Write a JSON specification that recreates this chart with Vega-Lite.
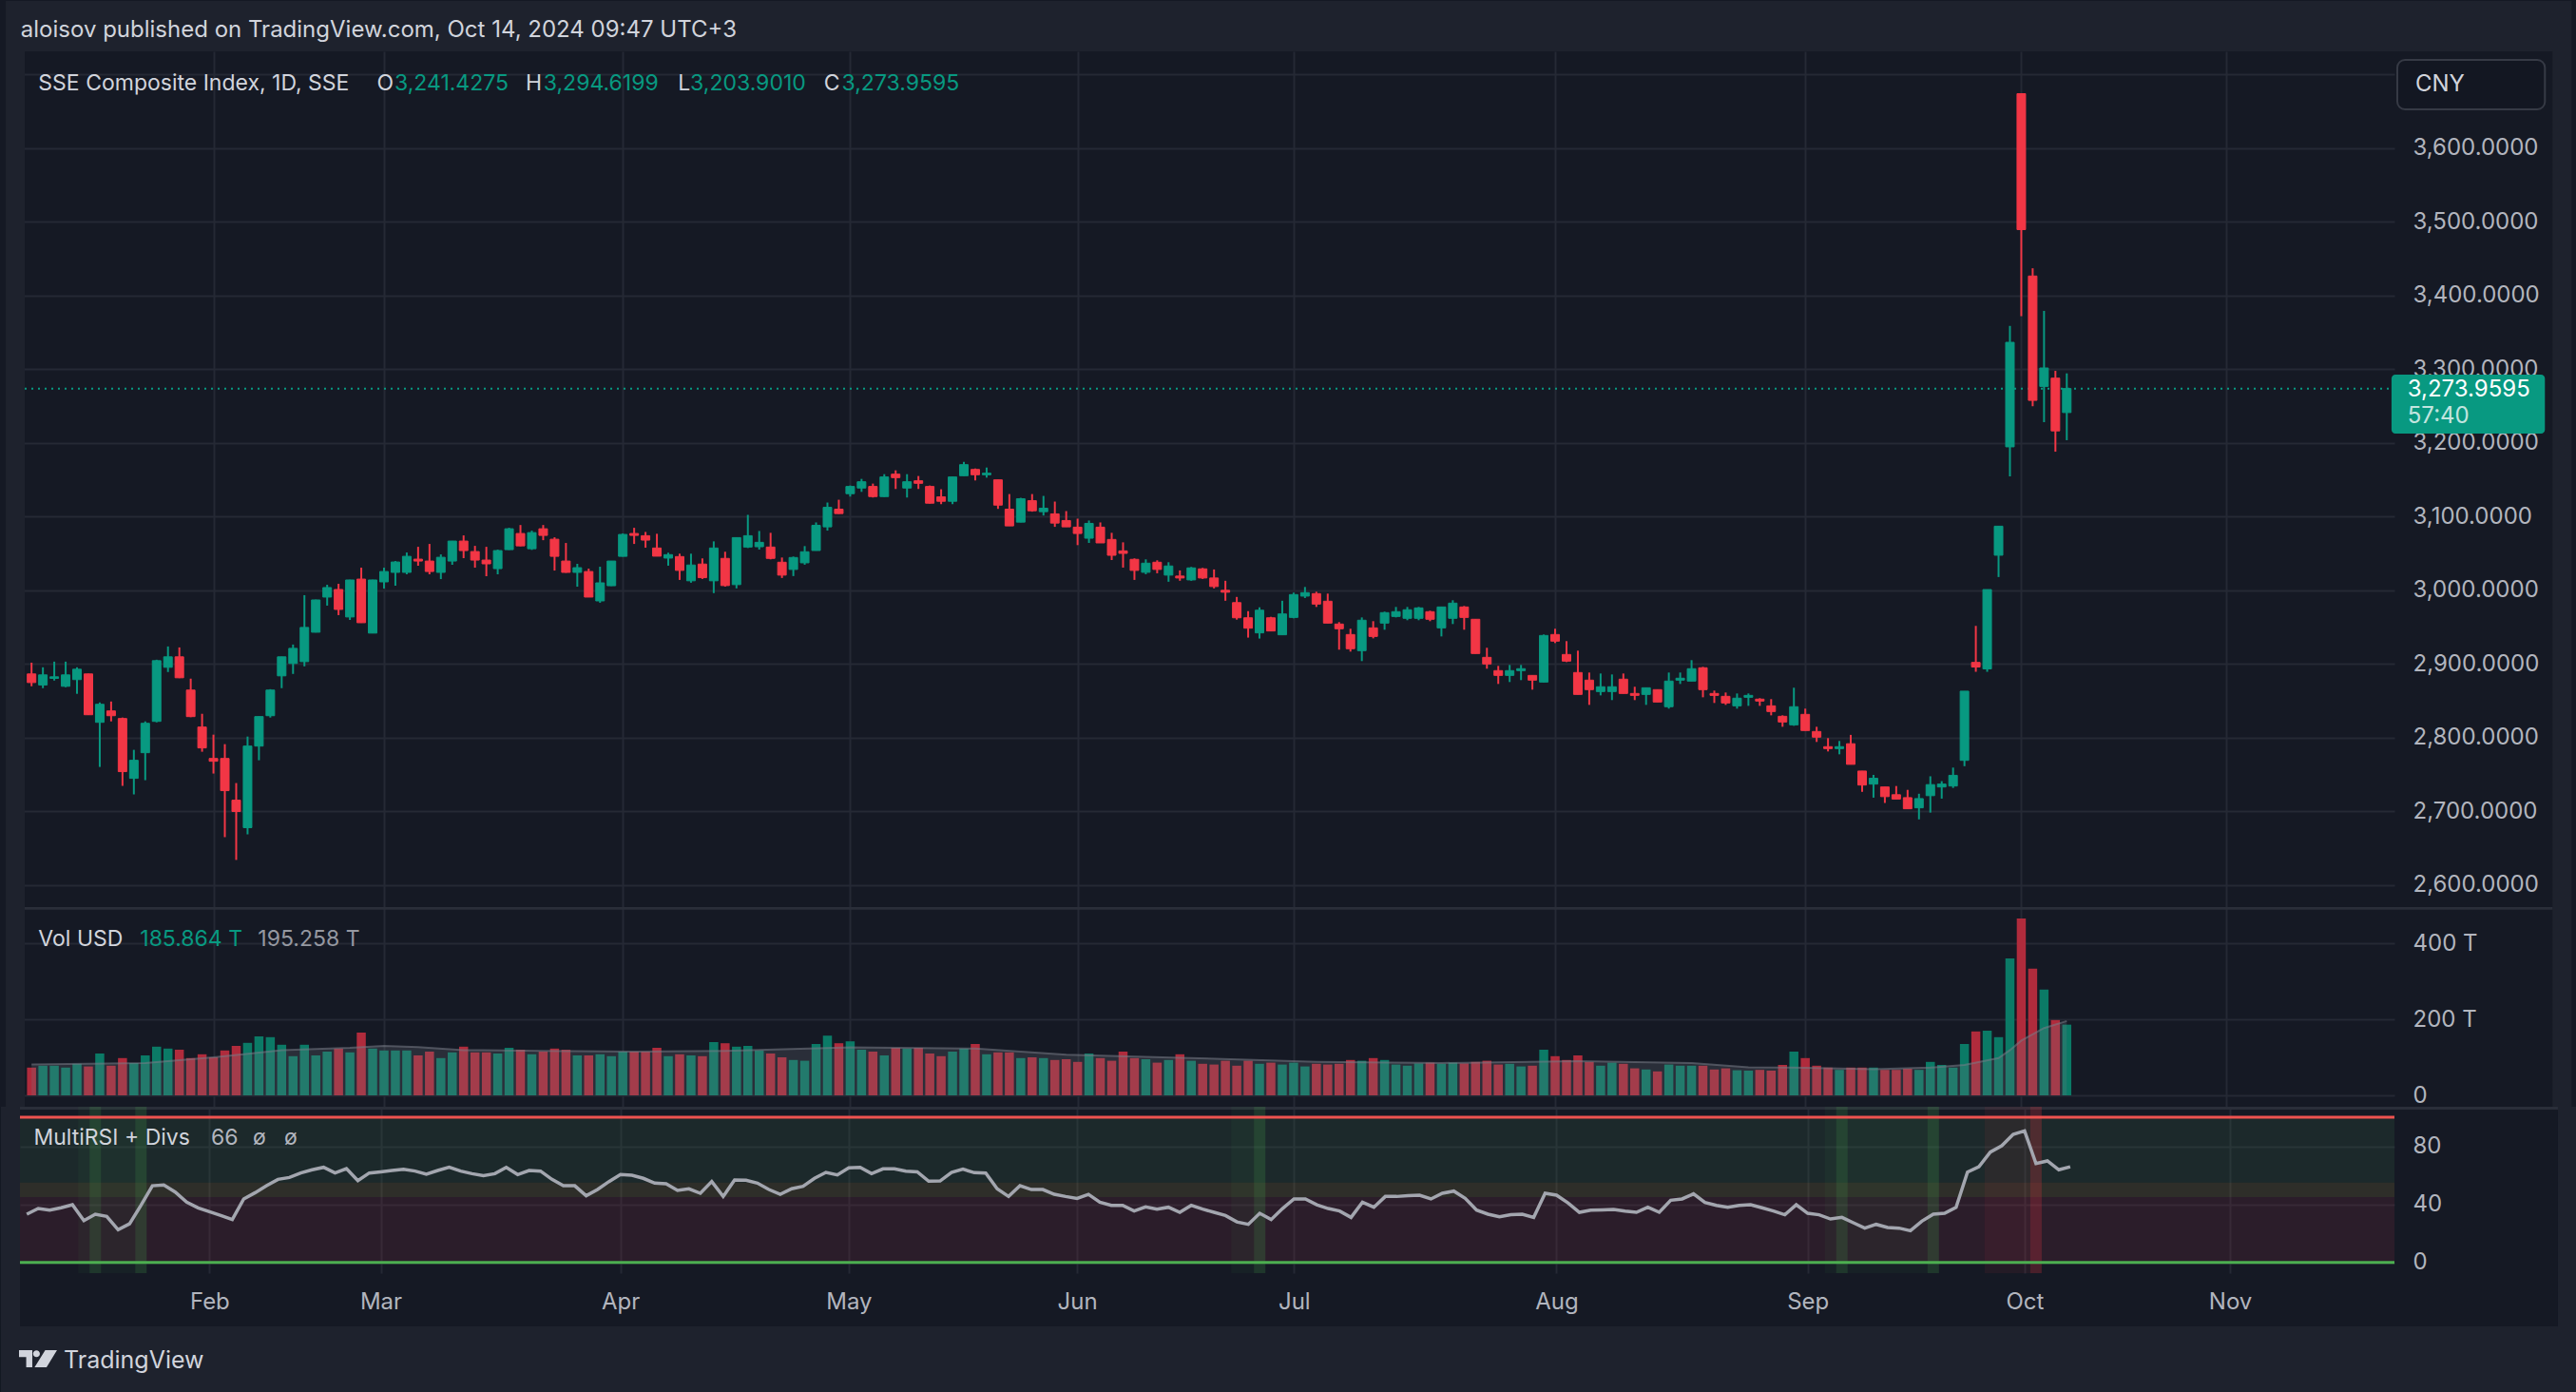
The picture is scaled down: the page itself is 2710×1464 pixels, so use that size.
{
  "$schema": "https://vega.github.io/schema/vega-lite/v6.json",
  "background": "#151924",
  "padding": 0,
  "spacing": 0,
  "config": {
    "view": {"stroke": null},
    "font": "Inter",
    "axis": {
      "gridColor": "#252934",
      "gridWidth": 2,
      "labelColor": "#b2b5be",
      "labelFont": "Inter",
      "labelFontSize": 24,
      "tickSize": 0,
      "labelFlush": false,
      "labelOverlap": false
    }
  },
  "datasets": {
    "bars": [
      {"i":0,"o":2886.7,"h":2902,"l":2870,"c":2875,"v":73,"r":33.2},
      {"i":1,"o":2871.7,"h":2895.7,"l":2867.4,"c":2885.4,"v":78,"r":37.1},
      {"i":2,"o":2880.7,"h":2903.4,"l":2877.7,"c":2882.8,"v":78,"r":36},
      {"i":3,"o":2869.9,"h":2903.4,"l":2868.7,"c":2885.4,"v":73,"r":37.6},
      {"i":4,"o":2879,"h":2895.7,"l":2859.7,"c":2893.1,"v":83,"r":39.7},
      {"i":5,"o":2886.7,"h":2887,"l":2831,"c":2831.3,"v":76,"r":28.8},
      {"i":6,"o":2821,"h":2848,"l":2760.5,"c":2845.5,"v":110,"r":33.2},
      {"i":7,"o":2836.5,"h":2849.3,"l":2822.3,"c":2830,"v":78,"r":31.7},
      {"i":8,"o":2826.2,"h":2827.5,"l":2734.8,"c":2754.1,"v":98,"r":22.5},
      {"i":9,"o":2745,"h":2783.7,"l":2723.2,"c":2769.5,"v":85,"r":26.6},
      {"i":10,"o":2779.8,"h":2822.3,"l":2742.5,"c":2819.7,"v":105,"r":39.3},
      {"i":11,"o":2822.3,"h":2906,"l":2821,"c":2904.7,"v":128,"r":52.8},
      {"i":12,"o":2895.7,"h":2924,"l":2889.3,"c":2909.9,"v":123,"r":53.3},
      {"i":13,"o":2909.9,"h":2922.7,"l":2881,"c":2881.5,"v":120,"r":48.5},
      {"i":14,"o":2864.8,"h":2880.3,"l":2828,"c":2828.8,"v":98,"r":41.5},
      {"i":15,"o":2814.6,"h":2832.6,"l":2781.1,"c":2786.3,"v":108,"r":37.6},
      {"i":16,"o":2772,"h":2804.3,"l":2751.5,"c":2768.2,"v":100,"r":34.9},
      {"i":17,"o":2772,"h":2791.4,"l":2665.2,"c":2728.3,"v":118,"r":32.3},
      {"i":18,"o":2715.4,"h":2738.6,"l":2634.3,"c":2700,"v":130,"r":29.5},
      {"i":19,"o":2678.1,"h":2801.7,"l":2669,"c":2788.8,"v":138,"r":43.7},
      {"i":20,"o":2788.8,"h":2829,"l":2769.5,"c":2828.8,"v":155,"r":48},
      {"i":21,"o":2830,"h":2866,"l":2827.5,"c":2864.8,"v":153,"r":52.8},
      {"i":22,"o":2884.1,"h":2910,"l":2867.4,"c":2909.9,"v":133,"r":57.2},
      {"i":23,"o":2900.9,"h":2926.6,"l":2886.7,"c":2921.4,"v":103,"r":58.5},
      {"i":24,"o":2903.4,"h":2993.6,"l":2897,"c":2949.8,"v":133,"r":61.6},
      {"i":25,"o":2943.3,"h":2987.5,"l":2943,"c":2987.1,"v":105,"r":63.8},
      {"i":26,"o":2991,"h":3007.7,"l":2979.4,"c":3003.9,"v":115,"r":65.5},
      {"i":27,"o":3001.3,"h":3009,"l":2966.5,"c":2974.2,"v":123,"r":61.6},
      {"i":28,"o":2964,"h":3014.5,"l":2960,"c":3014.2,"v":113,"r":64.6},
      {"i":29,"o":3015.4,"h":3030.9,"l":2956,"c":2956.2,"v":165,"r":56.3},
      {"i":30,"o":2942.1,"h":3014.5,"l":2942,"c":3014.2,"v":123,"r":61.6},
      {"i":31,"o":3011.6,"h":3030.9,"l":3002.6,"c":3025.7,"v":118,"r":62.4},
      {"i":32,"o":3024.5,"h":3039.9,"l":3006.4,"c":3038.6,"v":118,"r":63.3},
      {"i":33,"o":3024.5,"h":3051.5,"l":3021.9,"c":3046.3,"v":118,"r":64.2},
      {"i":34,"o":3042.5,"h":3059.2,"l":3033.5,"c":3039.9,"v":105,"r":62.9},
      {"i":35,"o":3039.9,"h":3063.1,"l":3021.9,"c":3025.7,"v":115,"r":60.7},
      {"i":36,"o":3024.5,"h":3048.9,"l":3015.4,"c":3045,"v":98,"r":63.3},
      {"i":37,"o":3039.9,"h":3067.2,"l":3034.8,"c":3067,"v":113,"r":65.5},
      {"i":38,"o":3067,"h":3074.7,"l":3043.8,"c":3054.1,"v":128,"r":62.9},
      {"i":39,"o":3052.8,"h":3060.5,"l":3030.9,"c":3041.2,"v":113,"r":61.1},
      {"i":40,"o":3041.2,"h":3059.2,"l":3019.3,"c":3036.1,"v":113,"r":59.8},
      {"i":41,"o":3029.6,"h":3055.4,"l":3021.9,"c":3054.1,"v":110,"r":61.1},
      {"i":42,"o":3055.4,"h":3085,"l":3055,"c":3083.7,"v":125,"r":65.5},
      {"i":43,"o":3077.3,"h":3088.8,"l":3060,"c":3060.5,"v":120,"r":60.5},
      {"i":44,"o":3056.6,"h":3081.1,"l":3055,"c":3078.5,"v":108,"r":63.3},
      {"i":45,"o":3083.7,"h":3088.8,"l":3068.2,"c":3074.7,"v":115,"r":62.9},
      {"i":46,"o":3069.5,"h":3072.1,"l":3027,"c":3046.3,"v":123,"r":57.2},
      {"i":47,"o":3039.9,"h":3064.4,"l":3024,"c":3024.5,"v":120,"r":52.8},
      {"i":48,"o":3024.5,"h":3036.1,"l":3005.1,"c":3030.9,"v":105,"r":52.8},
      {"i":49,"o":3025.7,"h":3029.6,"l":2991,"c":2991,"v":105,"r":45.9},
      {"i":50,"o":2985.8,"h":3032.2,"l":2983.3,"c":3010.3,"v":108,"r":50.2},
      {"i":51,"o":3006.4,"h":3040,"l":3006,"c":3039.9,"v":103,"r":55.7},
      {"i":52,"o":3046.3,"h":3077.3,"l":3046,"c":3076,"v":115,"r":60.5},
      {"i":53,"o":3077.3,"h":3085,"l":3063.1,"c":3074.7,"v":115,"r":60},
      {"i":54,"o":3074.3,"h":3079.4,"l":3058,"c":3068.3,"v":115,"r":57.9},
      {"i":55,"o":3057.6,"h":3076.9,"l":3046.5,"c":3046.5,"v":125,"r":54.6},
      {"i":56,"o":3043.9,"h":3051.2,"l":3033.6,"c":3048.6,"v":103,"r":54.1},
      {"i":57,"o":3046,"h":3049.9,"l":3014.3,"c":3027.2,"v":108,"r":49.6},
      {"i":58,"o":3013.1,"h":3049.9,"l":3010.5,"c":3034.5,"v":105,"r":50.7},
      {"i":59,"o":3035.8,"h":3043.5,"l":3015.6,"c":3017.3,"v":103,"r":47.6},
      {"i":60,"o":3013.1,"h":3066.6,"l":2996.4,"c":3057.6,"v":140,"r":55.7},
      {"i":61,"o":3043.5,"h":3052.5,"l":3005.3,"c":3006.6,"v":137,"r":45.4},
      {"i":62,"o":3007.9,"h":3071.7,"l":3002.8,"c":3071.7,"v":128,"r":56.8},
      {"i":63,"o":3058.9,"h":3102.6,"l":3057.6,"c":3074.3,"v":130,"r":56.6},
      {"i":64,"o":3059.3,"h":3080.7,"l":3055.5,"c":3065.3,"v":118,"r":54.6},
      {"i":65,"o":3058.9,"h":3078.2,"l":3042.2,"c":3043.5,"v":110,"r":50.2},
      {"i":66,"o":3038.3,"h":3044.7,"l":3016.9,"c":3020.8,"v":100,"r":46.9},
      {"i":67,"o":3028.5,"h":3046,"l":3019.5,"c":3044.7,"v":93,"r":50.7},
      {"i":68,"o":3037.5,"h":3060.2,"l":3034.9,"c":3052.5,"v":91,"r":52.4},
      {"i":69,"o":3054.2,"h":3092.3,"l":3054,"c":3088.4,"v":135,"r":57.9},
      {"i":70,"o":3086.3,"h":3119.3,"l":3081.2,"c":3112.8,"v":157,"r":62},
      {"i":71,"o":3110.3,"h":3123.1,"l":3104,"c":3104.3,"v":137,"r":60.3},
      {"i":72,"o":3131.3,"h":3142.4,"l":3127.4,"c":3141.1,"v":142,"r":65.1},
      {"i":73,"o":3139,"h":3151.4,"l":3133.8,"c":3147.5,"v":120,"r":65.5},
      {"i":74,"o":3141.1,"h":3145,"l":3126.1,"c":3127.4,"v":115,"r":61.1},
      {"i":75,"o":3127.4,"h":3157.8,"l":3127,"c":3154,"v":105,"r":64.4},
      {"i":76,"o":3157.8,"h":3163,"l":3137.7,"c":3153.1,"v":125,"r":64.4},
      {"i":77,"o":3139,"h":3157.8,"l":3126.1,"c":3147.5,"v":123,"r":62.9},
      {"i":78,"o":3148.8,"h":3155.3,"l":3137.7,"c":3145.4,"v":125,"r":62.4},
      {"i":79,"o":3141.1,"h":3142.4,"l":3118,"c":3118.4,"v":110,"r":55.9},
      {"i":80,"o":3127,"h":3137.3,"l":3117.1,"c":3121,"v":103,"r":56.1},
      {"i":81,"o":3121,"h":3154.2,"l":3117.1,"c":3154,"v":115,"r":62},
      {"i":82,"o":3155.7,"h":3174.5,"l":3155.5,"c":3170.7,"v":123,"r":64.2},
      {"i":83,"o":3164.2,"h":3165.5,"l":3149.3,"c":3157,"v":135,"r":61.8},
      {"i":84,"o":3157,"h":3166.8,"l":3153.1,"c":3159.1,"v":108,"r":61.6},
      {"i":85,"o":3150.1,"h":3150.3,"l":3110.7,"c":3115.8,"v":113,"r":50.7},
      {"i":86,"o":3110.3,"h":3130.8,"l":3087.6,"c":3087.6,"v":113,"r":45.4},
      {"i":87,"o":3092.7,"h":3125.7,"l":3092.5,"c":3124.4,"v":98,"r":52.8},
      {"i":88,"o":3121.8,"h":3130.8,"l":3106.9,"c":3108.1,"v":100,"r":50.2},
      {"i":89,"o":3106.9,"h":3128.3,"l":3101.7,"c":3111.6,"v":98,"r":50.2},
      {"i":90,"o":3103.9,"h":3120.6,"l":3086.3,"c":3091.4,"v":93,"r":46.9},
      {"i":91,"o":3094.9,"h":3107.7,"l":3086.3,"c":3086.3,"v":95,"r":45.4},
      {"i":92,"o":3085.9,"h":3097.4,"l":3061.5,"c":3077.3,"v":88,"r":44.1},
      {"i":93,"o":3070.9,"h":3094.9,"l":3064.5,"c":3091,"v":110,"r":46.9},
      {"i":94,"o":3085.9,"h":3092.3,"l":3064.5,"c":3064.5,"v":98,"r":41.5},
      {"i":95,"o":3069.2,"h":3078.2,"l":3041.3,"c":3047.7,"v":91,"r":39.3},
      {"i":96,"o":3053.7,"h":3065.3,"l":3031,"c":3050.3,"v":115,"r":39.3},
      {"i":97,"o":3042.2,"h":3043.5,"l":3014.3,"c":3027.2,"v":98,"r":35.4},
      {"i":98,"o":3024.6,"h":3042.2,"l":3022,"c":3037,"v":95,"r":38.2},
      {"i":99,"o":3038.3,"h":3040.9,"l":3023.3,"c":3028.5,"v":86,"r":36.7},
      {"i":100,"o":3020.8,"h":3038.3,"l":3011.8,"c":3033.2,"v":93,"r":38},
      {"i":101,"o":3019.5,"h":3027.2,"l":3013.1,"c":3016.9,"v":108,"r":34.5},
      {"i":102,"o":3014.3,"h":3031.9,"l":3013.1,"c":3030.6,"v":91,"r":39.3},
      {"i":103,"o":3029.3,"h":3030.6,"l":3015.6,"c":3016.9,"v":83,"r":36.7},
      {"i":104,"o":3016.9,"h":3028.5,"l":3002.8,"c":3005.3,"v":81,"r":34.5},
      {"i":105,"o":3000.2,"h":3013.1,"l":2986,"c":2997.6,"v":91,"r":32.3},
      {"i":106,"o":2983.5,"h":2991.2,"l":2960.4,"c":2962.9,"v":78,"r":27.9},
      {"i":107,"o":2962.9,"h":2971.9,"l":2936,"c":2948.8,"v":91,"r":26.2},
      {"i":108,"o":2942.4,"h":2977.1,"l":2934.7,"c":2973.2,"v":83,"r":33.8},
      {"i":109,"o":2962.9,"h":2964.2,"l":2945,"c":2945,"v":86,"r":29.5},
      {"i":110,"o":2939.8,"h":2986,"l":2939.8,"c":2968.1,"v":81,"r":37.1},
      {"i":111,"o":2963.4,"h":2997,"l":2962.2,"c":2994.4,"v":86,"r":43.7},
      {"i":112,"o":2992.3,"h":3004.7,"l":2989.7,"c":2997,"v":76,"r":43.7},
      {"i":113,"o":2995.7,"h":2998.3,"l":2977.6,"c":2981.5,"v":83,"r":39.7},
      {"i":114,"o":2985.4,"h":2995.7,"l":2955.7,"c":2955.7,"v":81,"r":37.1},
      {"i":115,"o":2954.4,"h":2957,"l":2919.6,"c":2948,"v":83,"r":35.4},
      {"i":116,"o":2940.2,"h":2948,"l":2917,"c":2920.9,"v":93,"r":31},
      {"i":117,"o":2918.3,"h":2963.4,"l":2904.1,"c":2959.6,"v":91,"r":41.5},
      {"i":118,"o":2949.2,"h":2958.3,"l":2935,"c":2937.6,"v":98,"r":38},
      {"i":119,"o":2955.7,"h":2971.2,"l":2946.7,"c":2969.9,"v":93,"r":45.4},
      {"i":120,"o":2964.7,"h":2977.6,"l":2963.4,"c":2971.2,"v":81,"r":45.4},
      {"i":121,"o":2962.2,"h":2977.6,"l":2959.6,"c":2973.8,"v":78,"r":45.9},
      {"i":122,"o":2962.2,"h":2977.6,"l":2959.6,"c":2976.3,"v":84,"r":46.3},
      {"i":123,"o":2971.2,"h":2972.5,"l":2958.3,"c":2960.9,"v":86,"r":43.7},
      {"i":124,"o":2949.2,"h":2977.6,"l":2937.6,"c":2977.6,"v":83,"r":47.6},
      {"i":125,"o":2962.2,"h":2986.7,"l":2954.4,"c":2982.8,"v":86,"r":49.1},
      {"i":126,"o":2977.6,"h":2978.9,"l":2946.7,"c":2963.4,"v":84,"r":44.1},
      {"i":127,"o":2960.9,"h":2961,"l":2914.4,"c":2914.4,"v":88,"r":36},
      {"i":128,"o":2909.2,"h":2922.2,"l":2893.8,"c":2900.2,"v":91,"r":33.2},
      {"i":129,"o":2891.2,"h":2897.6,"l":2873.1,"c":2884.7,"v":81,"r":31.4},
      {"i":130,"o":2884.7,"h":2898.9,"l":2875.7,"c":2891.2,"v":83,"r":32.8},
      {"i":131,"o":2891.2,"h":2898.9,"l":2878.3,"c":2893.8,"v":76,"r":33.2},
      {"i":132,"o":2884.7,"h":2884.8,"l":2865.4,"c":2878.3,"v":78,"r":31},
      {"i":133,"o":2875.7,"h":2940.2,"l":2875.5,"c":2938.9,"v":120,"r":47.6},
      {"i":134,"o":2940.2,"h":2948,"l":2928.6,"c":2931.2,"v":103,"r":46.3},
      {"i":135,"o":2913.1,"h":2931.2,"l":2902.8,"c":2904.1,"v":93,"r":41},
      {"i":136,"o":2888.6,"h":2918.3,"l":2858.9,"c":2858.9,"v":105,"r":34.5},
      {"i":137,"o":2878.3,"h":2888.6,"l":2844.7,"c":2865.4,"v":88,"r":36},
      {"i":138,"o":2862.8,"h":2887.3,"l":2857.6,"c":2869.3,"v":78,"r":36.2},
      {"i":139,"o":2862.8,"h":2886,"l":2851.2,"c":2869.3,"v":86,"r":36.5},
      {"i":140,"o":2879.6,"h":2887.3,"l":2860.2,"c":2860.2,"v":83,"r":35.4},
      {"i":141,"o":2860.2,"h":2869.3,"l":2851.2,"c":2857.6,"v":71,"r":34.5},
      {"i":142,"o":2858.9,"h":2867.9,"l":2844.7,"c":2867.9,"v":68,"r":38},
      {"i":143,"o":2865.4,"h":2865.5,"l":2848.6,"c":2848.6,"v":63,"r":34.5},
      {"i":144,"o":2842.2,"h":2888.6,"l":2839.6,"c":2877,"v":81,"r":42.8},
      {"i":145,"o":2878.3,"h":2888.6,"l":2873.1,"c":2880.9,"v":78,"r":43.7},
      {"i":146,"o":2877,"h":2905.4,"l":2877,"c":2893.8,"v":78,"r":47.2},
      {"i":147,"o":2895.1,"h":2896.3,"l":2855,"c":2865.4,"v":78,"r":41.3},
      {"i":148,"o":2860.2,"h":2864.1,"l":2847.3,"c":2857.6,"v":68,"r":39.3},
      {"i":149,"o":2856.3,"h":2861.5,"l":2844.7,"c":2847.3,"v":71,"r":38},
      {"i":150,"o":2843.4,"h":2860.2,"l":2839.6,"c":2853.8,"v":66,"r":39.3},
      {"i":151,"o":2855,"h":2860.2,"l":2843.4,"c":2857.6,"v":65,"r":39.7},
      {"i":152,"o":2852.5,"h":2853.8,"l":2843.4,"c":2849.9,"v":67,"r":37.6},
      {"i":153,"o":2843.4,"h":2852.5,"l":2830.5,"c":2835.7,"v":65,"r":35.4},
      {"i":154,"o":2829.2,"h":2830.5,"l":2815,"c":2821.5,"v":80,"r":32.8},
      {"i":155,"o":2817.6,"h":2868,"l":2816.3,"c":2842.2,"v":115,"r":39.7},
      {"i":156,"o":2831.8,"h":2839.6,"l":2809.9,"c":2809.9,"v":98,"r":33.8},
      {"i":157,"o":2808.6,"h":2815,"l":2794.4,"c":2800.9,"v":78,"r":32.8},
      {"i":158,"o":2788,"h":2799.6,"l":2781.5,"c":2785.4,"v":73,"r":29.9},
      {"i":159,"o":2785.4,"h":2795.7,"l":2777.6,"c":2788,"v":67,"r":31},
      {"i":160,"o":2792,"h":2804,"l":2764,"c":2764,"v":73,"r":27.3},
      {"i":161,"o":2754.9,"h":2755,"l":2726.7,"c":2735.9,"v":73,"r":23.6},
      {"i":162,"o":2737.2,"h":2749.7,"l":2718.8,"c":2745.1,"v":73,"r":26.2},
      {"i":163,"o":2733.3,"h":2733.4,"l":2711.6,"c":2720.2,"v":67,"r":24},
      {"i":164,"o":2722.8,"h":2734.6,"l":2716.9,"c":2716.9,"v":67,"r":23.6},
      {"i":165,"o":2718.8,"h":2729.4,"l":2703.7,"c":2703.7,"v":70,"r":21.8},
      {"i":166,"o":2705,"h":2724.1,"l":2689.3,"c":2717.5,"v":67,"r":28.4},
      {"i":167,"o":2721.5,"h":2747.8,"l":2698.5,"c":2736.5,"v":88,"r":33.2},
      {"i":168,"o":2733.3,"h":2741.2,"l":2717.5,"c":2737.2,"v":80,"r":33.8},
      {"i":169,"o":2734.6,"h":2759.6,"l":2732,"c":2749.1,"v":73,"r":38},
      {"i":170,"o":2769.4,"h":2863.3,"l":2761.5,"c":2863.3,"v":135,"r":62.2},
      {"i":171,"o":2902.3,"h":2951.9,"l":2889.6,"c":2896.1,"v":168,"r":65.9},
      {"i":172,"o":2893.5,"h":3001.2,"l":2889.6,"c":3001.2,"v":170,"r":76},
      {"i":173,"o":3047.8,"h":3087.2,"l":3018.2,"c":3087.2,"v":153,"r":80.3},
      {"i":174,"o":3194.9,"h":3359,"l":3154.8,"c":3336.7,"v":360,"r":88.2},
      {"i":175,"o":3674.2,"h":3674.4,"l":3372.2,"c":3489.7,"v":465,"r":90.6},
      {"i":176,"o":3426.7,"h":3437.2,"l":3250,"c":3257.9,"v":333,"r":68.1},
      {"i":177,"o":3276.9,"h":3379.4,"l":3228.4,"c":3301.9,"v":278,"r":69.9},
      {"i":178,"o":3288.1,"h":3298,"l":3188.3,"c":3216.5,"v":198,"r":63.8},
      {"i":179,"o":3241.4,"h":3294.6,"l":3203.9,"c":3274,"v":185.9,"r":65.9}
    ],
    "ma": [
      {"i":0,"m":81},{"i":10,"m":85},{"i":16,"m":100},{"i":22,"m":119},{"i":28,"m":125},
      {"i":31,"m":130},{"i":34,"m":127},{"i":38,"m":119},{"i":45,"m":117},{"i":53,"m":115},
      {"i":61,"m":117},{"i":72,"m":126},{"i":83,"m":123},{"i":91,"m":107},{"i":101,"m":99},
      {"i":113,"m":88},{"i":124,"m":85},{"i":136,"m":90},{"i":146,"m":85},{"i":151,"m":74},
      {"i":155,"m":73},{"i":162,"m":69},{"i":167,"m":73},{"i":170,"m":80},{"i":173,"m":98},
      {"i":174,"m":119},{"i":175,"m":144},{"i":177,"m":177},{"i":179,"m":195.3}
    ],
    "divs": [
      {"a":4.5,"b":10.5,"k":"g0"},{"a":105.5,"b":108.5,"k":"g0"},{"a":157.5,"b":167.5,"k":"g0"},
      {"a":5.5,"b":6.5,"k":"g1"},{"a":9.5,"b":10.5,"k":"g1"},{"a":107.5,"b":108.5,"k":"g1"},
      {"a":158.5,"b":159.5,"k":"g1"},{"a":166.5,"b":167.5,"k":"g1"},
      {"a":171.5,"b":176.5,"k":"r0"},{"a":175.5,"b":176.5,"k":"r1"}
    ]
  },
  "vconcat": [
    {
      "width": 2498,
      "height": 900,
      "data": {"name": "bars"},
      "layer": [
        {
          "mark": {"type": "rule", "strokeWidth": 2},
          "encoding": {
            "x": {
              "field": "i", "type": "quantitative",
              "scale": {"domain": [-0.6, 207.4], "nice": false, "zero": false},
              "axis": {"values": [16, 31, 52, 72, 92, 111, 134, 156, 175, 193], "labels": false, "ticks": false, "domain": false, "grid": true, "title": null}
            },
            "y": {
              "field": "l", "type": "quantitative",
              "scale": {"domain": [2570.3, 3731.6], "nice": false, "zero": false},
              "axis": {
                "orient": "right", "title": null, "grid": true, "ticks": false, "domain": false, "labelPadding": 19,
                "values": [2600, 2700, 2800, 2900, 3000, 3100, 3200, 3300, 3400, 3500, 3600, 3700],
                "labelExpr": "datum.value >= 3700 ? '' : format(datum.value, ',.4f')"
              }
            },
            "y2": {"field": "h"},
            "color": {"condition": {"test": "datum.c >= datum.o", "value": "#089981"}, "value": "#f23645"}
          }
        },
        {
          "data": {"values": [{}]},
          "mark": {"type": "rect", "color": "#1e222d"},
          "encoding": {
            "x": {"datum": -2.27, "type": "quantitative"},
            "x2": {"datum": 223.4},
            "y": {"datum": 3731.6, "type": "quantitative"},
            "y2": {"datum": 3800}
          }
        },
        {
          "data": {"values": [{}]},
          "mark": {"type": "rect", "color": "#1e222d"},
          "encoding": {
            "x": {"datum": -2.27, "type": "quantitative"},
            "x2": {"datum": -0.6},
            "y": {"datum": 2570.3, "type": "quantitative"},
            "y2": {"datum": 3731.6}
          }
        },
        {
          "data": {"values": [{}]},
          "mark": {"type": "rect", "color": "#1e222d"},
          "encoding": {
            "x": {"datum": 221.72, "type": "quantitative"},
            "x2": {"datum": 223.4},
            "y": {"datum": 2570.3, "type": "quantitative"},
            "y2": {"datum": 3731.6}
          }
        },
        {
          "data": {"values": [{}]},
          "mark": {"type": "rule", "color": "#089981", "strokeWidth": 2, "strokeDash": [2, 5]},
          "encoding": {
            "x": {"datum": -0.6, "type": "quantitative"},
            "x2": {"datum": 207.4},
            "y": {"datum": 3273.96, "type": "quantitative"}
          }
        },
        {
          "mark": {"type": "bar", "width": 9, "strokeWidth": 1},
          "encoding": {
            "x": {"field": "i", "type": "quantitative"},
            "y": {"field": "o", "type": "quantitative"},
            "y2": {"field": "c"},
            "color": {"condition": {"test": "datum.c >= datum.o", "value": "#089981"}, "value": "#f23645"},
            "stroke": {"condition": {"test": "datum.c >= datum.o", "value": "#089981"}, "value": "#f23645"}
          }
        },
        {
          "data": {"values": [{}]},
          "mark": {"type": "text", "align": "left", "baseline": "middle", "fontSize": 24, "color": "#d1d4dc", "text": "aloisov published on TradingView.com, Oct 14, 2024 09:47 UTC+3"},
          "encoding": {"x": {"datum": -0.95, "type": "quantitative"}, "y": {"datum": 3760, "type": "quantitative"}}
        },
        {
          "data": {"values": [{}]},
          "mark": {"type": "text", "align": "left", "baseline": "middle", "fontSize": 23, "color": "#d1d4dc", "text": "SSE Composite Index, 1D, SSE"},
          "encoding": {"x": {"datum": 0.6, "type": "quantitative"}, "y": {"datum": 3687.7, "type": "quantitative"}}
        },
        {
          "data": {"values": [{}]},
          "mark": {"type": "text", "align": "left", "baseline": "middle", "fontSize": 23, "color": "#d1d4dc", "text": "O"},
          "encoding": {"x": {"datum": 30.38, "type": "quantitative"}, "y": {"datum": 3687.7, "type": "quantitative"}}
        },
        {
          "data": {"values": [{}]},
          "mark": {"type": "text", "align": "left", "baseline": "middle", "fontSize": 23, "color": "#089981", "text": "3,241.4275"},
          "encoding": {"x": {"datum": 31.92, "type": "quantitative"}, "y": {"datum": 3687.7, "type": "quantitative"}}
        },
        {
          "data": {"values": [{}]},
          "mark": {"type": "text", "align": "left", "baseline": "middle", "fontSize": 23, "color": "#d1d4dc", "text": "H"},
          "encoding": {"x": {"datum": 43.45, "type": "quantitative"}, "y": {"datum": 3687.7, "type": "quantitative"}}
        },
        {
          "data": {"values": [{}]},
          "mark": {"type": "text", "align": "left", "baseline": "middle", "fontSize": 23, "color": "#089981", "text": "3,294.6199"},
          "encoding": {"x": {"datum": 45.03, "type": "quantitative"}, "y": {"datum": 3687.7, "type": "quantitative"}}
        },
        {
          "data": {"values": [{}]},
          "mark": {"type": "text", "align": "left", "baseline": "middle", "fontSize": 23, "color": "#d1d4dc", "text": "L"},
          "encoding": {"x": {"datum": 56.85, "type": "quantitative"}, "y": {"datum": 3687.7, "type": "quantitative"}}
        },
        {
          "data": {"values": [{}]},
          "mark": {"type": "text", "align": "left", "baseline": "middle", "fontSize": 23, "color": "#089981", "text": "3,203.9010"},
          "encoding": {"x": {"datum": 57.93, "type": "quantitative"}, "y": {"datum": 3687.7, "type": "quantitative"}}
        },
        {
          "data": {"values": [{}]},
          "mark": {"type": "text", "align": "left", "baseline": "middle", "fontSize": 23, "color": "#d1d4dc", "text": "C"},
          "encoding": {"x": {"datum": 69.68, "type": "quantitative"}, "y": {"datum": 3687.7, "type": "quantitative"}}
        },
        {
          "data": {"values": [{}]},
          "mark": {"type": "text", "align": "left", "baseline": "middle", "fontSize": 23, "color": "#089981", "text": "3,273.9595"},
          "encoding": {"x": {"datum": 71.26, "type": "quantitative"}, "y": {"datum": 3687.7, "type": "quantitative"}}
        },
        {
          "data": {"values": [{}]},
          "mark": {"type": "rect", "fill": "#131722", "stroke": "#363a45", "strokeWidth": 2, "cornerRadius": 8},
          "encoding": {
            "x": {"datum": 208.07, "type": "quantitative"},
            "x2": {"datum": 221.05},
            "y": {"datum": 3652.9, "type": "quantitative"},
            "y2": {"datum": 3720}
          }
        },
        {
          "data": {"values": [{}]},
          "mark": {"type": "text", "align": "left", "baseline": "middle", "fontSize": 24, "color": "#d1d4dc", "text": "CNY"},
          "encoding": {"x": {"datum": 209.65, "type": "quantitative"}, "y": {"datum": 3686.5, "type": "quantitative"}}
        },
        {
          "data": {"values": [{}]},
          "mark": {"type": "rect", "fill": "#089981", "cornerRadius": 4},
          "encoding": {
            "x": {"datum": 207.56, "type": "quantitative"},
            "x2": {"datum": 221.05},
            "y": {"datum": 3212.9, "type": "quantitative"},
            "y2": {"datum": 3292.9}
          }
        },
        {
          "data": {"values": [{}]},
          "mark": {"type": "text", "align": "left", "baseline": "middle", "fontSize": 24, "color": "#ffffff", "text": "3,273.9595"},
          "encoding": {"x": {"datum": 208.97, "type": "quantitative"}, "y": {"datum": 3272.3, "type": "quantitative"}}
        },
        {
          "data": {"values": [{}]},
          "mark": {"type": "text", "align": "left", "baseline": "middle", "fontSize": 24, "color": "#ffffff", "opacity": 0.75, "text": "57:40"},
          "encoding": {"x": {"datum": 208.97, "type": "quantitative"}, "y": {"datum": 3236.1, "type": "quantitative"}}
        }
      ]
    },
    {
      "width": 2498,
      "height": 210,
      "data": {"name": "bars"},
      "layer": [
        {
          "mark": {"type": "bar", "width": 9.5},
          "encoding": {
            "x": {
              "field": "i", "type": "quantitative",
              "scale": {"domain": [-0.6, 207.4], "nice": false, "zero": false},
              "axis": {"values": [16, 31, 52, 72, 92, 111, 134, 156, 175, 193], "labels": false, "ticks": false, "domain": false, "grid": true, "title": null}
            },
            "y": {
              "field": "v", "type": "quantitative",
              "scale": {"domain": [-30, 495], "nice": false, "zero": false},
              "axis": {
                "orient": "right", "title": null, "grid": true, "ticks": false, "domain": false, "labelPadding": 19,
                "values": [0, 200, 400],
                "labelExpr": "datum.value == 0 ? '0' : datum.value + ' T'"
              }
            },
            "y2": {"datum": 0},
            "color": {"condition": {"test": "datum.c >= datum.o", "value": "#0b7a66"}, "value": "#b02b3c"}
          }
        },
        {
          "data": {"values": [{}]},
          "mark": {"type": "rect", "color": "#1e222d"},
          "encoding": {
            "x": {"datum": -2.27, "type": "quantitative"},
            "x2": {"datum": -0.6},
            "y": {"datum": -30, "type": "quantitative"},
            "y2": {"datum": 495}
          }
        },
        {
          "data": {"values": [{}]},
          "mark": {"type": "rect", "color": "#1e222d"},
          "encoding": {
            "x": {"datum": 221.72, "type": "quantitative"},
            "x2": {"datum": 223.4},
            "y": {"datum": -30, "type": "quantitative"},
            "y2": {"datum": 495}
          }
        },
        {
          "data": {"values": [{}]},
          "mark": {"type": "rect", "color": "#2a2e39"},
          "encoding": {
            "x": {"datum": -0.6, "type": "quantitative"},
            "x2": {"datum": 221.72},
            "y": {"datum": 488, "type": "quantitative"},
            "y2": {"datum": 495}
          }
        },
        {
          "data": {"name": "ma"},
          "mark": {"type": "area", "color": "#787b86", "opacity": 0.22},
          "encoding": {
            "x": {"field": "i", "type": "quantitative"},
            "y": {"field": "m", "type": "quantitative"},
            "y2": {"datum": 0}
          }
        },
        {
          "data": {"name": "ma"},
          "mark": {"type": "line", "color": "#787b86", "opacity": 0.55, "strokeWidth": 2},
          "encoding": {
            "x": {"field": "i", "type": "quantitative"},
            "y": {"field": "m", "type": "quantitative"}
          }
        },
        {
          "data": {"values": [{}]},
          "mark": {"type": "text", "align": "left", "baseline": "middle", "fontSize": 23, "color": "#d1d4dc", "text": "Vol USD"},
          "encoding": {"x": {"datum": 0.6, "type": "quantitative"}, "y": {"datum": 410, "type": "quantitative"}}
        },
        {
          "data": {"values": [{}]},
          "mark": {"type": "text", "align": "left", "baseline": "middle", "fontSize": 23, "color": "#089981", "text": "185.864 T"},
          "encoding": {"x": {"datum": 9.54, "type": "quantitative"}, "y": {"datum": 410, "type": "quantitative"}}
        },
        {
          "data": {"values": [{}]},
          "mark": {"type": "text", "align": "left", "baseline": "middle", "fontSize": 23, "color": "#9598a1", "text": "195.258 T"},
          "encoding": {"x": {"datum": 19.91, "type": "quantitative"}, "y": {"datum": 410, "type": "quantitative"}}
        }
      ]
    },
    {
      "width": 2498,
      "height": 175,
      "data": {"name": "bars"},
      "layer": [
        {
          "data": {"values": [{}]},
          "mark": {"type": "rect", "color": "#355d40", "opacity": 0.25},
          "encoding": {
            "x": {
              "datum": -0.6, "type": "quantitative",
              "scale": {"domain": [-0.6, 207.4], "nice": false, "zero": false},
              "axis": {
                "values": [16, 31, 52, 72, 92, 111, 134, 156, 175, 193], "ticks": false, "domain": false, "grid": true, "title": null,
                "labelPadding": 30, "labelBaseline": "middle", "labelFontSize": 24,
                "labelExpr": "datum.value==16?'Feb':datum.value==31?'Mar':datum.value==52?'Apr':datum.value==72?'May':datum.value==92?'Jun':datum.value==111?'Jul':datum.value==134?'Aug':datum.value==156?'Sep':datum.value==175?'Oct':'Nov'"
              }
            },
            "x2": {"datum": 207.4},
            "y": {
              "datum": 55, "type": "quantitative",
              "scale": {"domain": [-7.4, 107.2], "nice": false, "zero": false},
              "axis": {"orient": "right", "title": null, "grid": true, "ticks": false, "domain": false, "labelPadding": 19, "values": [0, 40, 80]}
            },
            "y2": {"datum": 100}
          }
        },
        {
          "data": {"values": [{}]},
          "mark": {"type": "rect", "color": "#7d7138", "opacity": 0.25},
          "encoding": {
            "x": {"datum": -0.6, "type": "quantitative"},
            "x2": {"datum": 207.4},
            "y": {"datum": 45, "type": "quantitative"},
            "y2": {"datum": 55}
          }
        },
        {
          "data": {"values": [{}]},
          "mark": {"type": "rect", "color": "#712d3c", "opacity": 0.25},
          "encoding": {
            "x": {"datum": -0.6, "type": "quantitative"},
            "x2": {"datum": 207.4},
            "y": {"datum": 0, "type": "quantitative"},
            "y2": {"datum": 45}
          }
        },
        {
          "data": {"values": [{}]},
          "mark": {"type": "rect", "color": "#1e222d"},
          "encoding": {
            "x": {"datum": -2.27, "type": "quantitative"},
            "x2": {"datum": -0.6},
            "y": {"datum": -89.9, "type": "quantitative"},
            "y2": {"datum": 107.2}
          }
        },
        {
          "data": {"values": [{}]},
          "mark": {"type": "rect", "color": "#1e222d"},
          "encoding": {
            "x": {"datum": 221.72, "type": "quantitative"},
            "x2": {"datum": 223.4},
            "y": {"datum": -89.9, "type": "quantitative"},
            "y2": {"datum": 107.2}
          }
        },
        {
          "data": {"values": [{}]},
          "mark": {"type": "rect", "color": "#1e222d"},
          "encoding": {
            "x": {"datum": -2.27, "type": "quantitative"},
            "x2": {"datum": 223.4},
            "y": {"datum": -89.9, "type": "quantitative"},
            "y2": {"datum": -44.1}
          }
        },
        {
          "data": {"values": [{}]},
          "mark": {"type": "rect", "color": "#2a2e39"},
          "encoding": {
            "x": {"datum": -0.6, "type": "quantitative"},
            "x2": {"datum": 221.72},
            "y": {"datum": 105.2, "type": "quantitative"},
            "y2": {"datum": 107.2}
          }
        },
        {
          "data": {"name": "divs"},
          "mark": {"type": "rect"},
          "encoding": {
            "x": {"field": "a", "type": "quantitative"},
            "x2": {"field": "b"},
            "y": {"datum": -7.4, "type": "quantitative"},
            "y2": {"datum": 107.2},
            "color": {
              "field": "k", "type": "nominal", "legend": null,
              "scale": {"domain": ["g0", "g1", "r0", "r1"], "range": ["rgba(76,175,80,0.06)", "rgba(76,175,80,0.16)", "rgba(242,54,69,0.07)", "rgba(242,54,69,0.18)"]}
            }
          }
        },
        {
          "data": {"values": [{}]},
          "mark": {"type": "rule", "color": "#ef5350", "strokeWidth": 3},
          "encoding": {
            "x": {"datum": -0.6, "type": "quantitative"},
            "x2": {"datum": 207.4},
            "y": {"datum": 100, "type": "quantitative"}
          }
        },
        {
          "data": {"values": [{}]},
          "mark": {"type": "rule", "color": "#4caf50", "strokeWidth": 3},
          "encoding": {
            "x": {"datum": -0.6, "type": "quantitative"},
            "x2": {"datum": 207.4},
            "y": {"datum": 0, "type": "quantitative"}
          }
        },
        {
          "mark": {"type": "line", "color": "#a3a6af", "strokeWidth": 3.5},
          "encoding": {
            "x": {"field": "i", "type": "quantitative"},
            "y": {"field": "r", "type": "quantitative"}
          }
        },
        {
          "data": {"values": [{}]},
          "mark": {"type": "text", "align": "left", "baseline": "middle", "fontSize": 23, "color": "#d1d4dc", "text": "MultiRSI + Divs"},
          "encoding": {"x": {"datum": 0.6, "type": "quantitative"}, "y": {"datum": 85.6, "type": "quantitative"}}
        },
        {
          "data": {"values": [{}]},
          "mark": {"type": "text", "align": "left", "baseline": "middle", "fontSize": 23, "color": "#b2b5be", "text": "66"},
          "encoding": {"x": {"datum": 16.14, "type": "quantitative"}, "y": {"datum": 85.6, "type": "quantitative"}}
        },
        {
          "data": {"values": [{}]},
          "mark": {"type": "text", "align": "left", "baseline": "middle", "fontSize": 23, "color": "#b2b5be", "text": "ø"},
          "encoding": {"x": {"datum": 19.8, "type": "quantitative"}, "y": {"datum": 85.6, "type": "quantitative"}}
        },
        {
          "data": {"values": [{}]},
          "mark": {"type": "text", "align": "left", "baseline": "middle", "fontSize": 23, "color": "#b2b5be", "text": "ø"},
          "encoding": {"x": {"datum": 22.55, "type": "quantitative"}, "y": {"datum": 85.6, "type": "quantitative"}}
        },
        {
          "data": {"values": [{}]},
          "mark": {
            "type": "point", "filled": true, "fill": "#d1d4dc", "opacity": 1, "size": 1600, "strokeWidth": 0,
            "shape": "M-1,-0.45H-0.3V0.45H-0.62V-0.08H-1Z M-0.26,-0.26A0.18,0.18,0,1,1,0.1,-0.26A0.18,0.18,0,1,1,-0.26,-0.26Z M0.38,-0.45H1L0.45,0.45H-0.18Z"
          },
          "encoding": {"x": {"datum": 0.98, "type": "quantitative"}, "y": {"datum": -66.3, "type": "quantitative"}}
        },
        {
          "data": {"values": [{}]},
          "mark": {"type": "text", "align": "left", "baseline": "middle", "fontSize": 25, "color": "#d1d4dc", "text": "TradingView"},
          "encoding": {"x": {"datum": 3.23, "type": "quantitative"}, "y": {"datum": -67.7, "type": "quantitative"}}
        }
      ]
    }
  ]
}
